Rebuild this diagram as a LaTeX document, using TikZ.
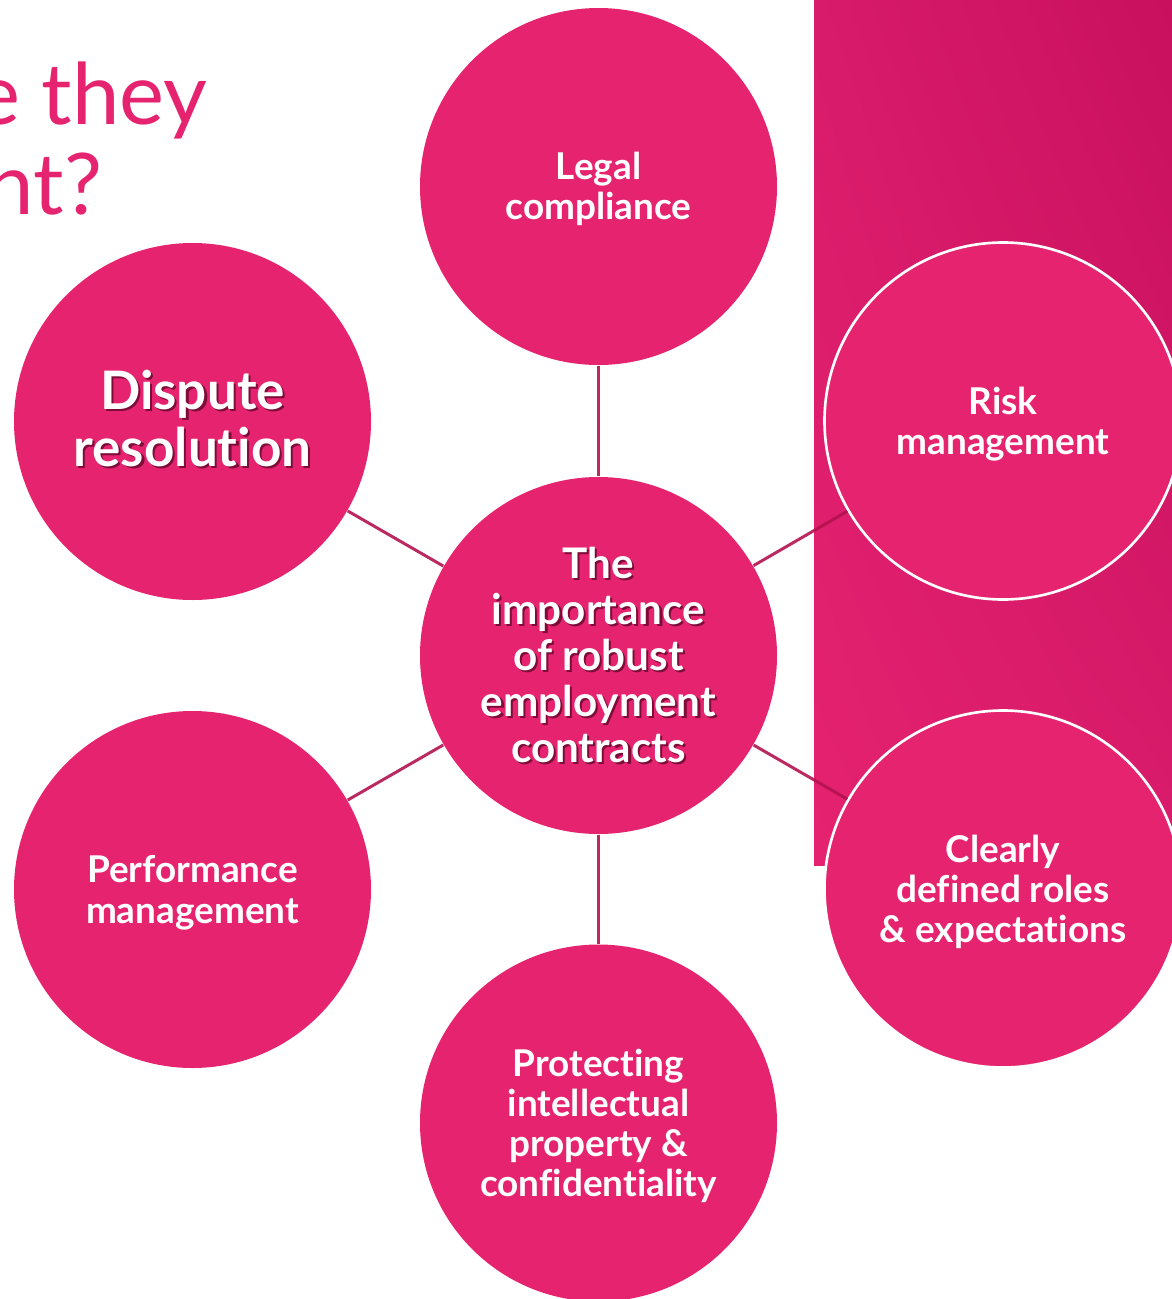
\documentclass[tikz,border=0pt]{standalone}
\usepackage{fontspec}
\setmainfont{Lato}[Ligatures=NoCommon]
\usetikzlibrary{shadings}
\definecolor{mpink}{HTML}{E6236F}
\definecolor{mlink}{HTML}{B3124F}
\definecolor{mshade}{HTML}{7E0C38}
\definecolor{panelA}{HTML}{E5226F}
\definecolor{panelB}{HTML}{D81B6B}
\definecolor{panelC}{HTML}{C8105E}
\definecolor{panelD}{HTML}{D91C6B}
\newcommand{\bubbletext}[2][1.55pt]{\raisebox{-#1}[\height][\depth]{\begin{tabular}{@{}c@{}}#2\end{tabular}}}
\newcommand{\castshadow}[2][1.85pt]{\raisebox{-#1}[\height][\depth]{\makebox[0pt][l]{\raisebox{-0.6pt}{\hspace{0.6pt}\color{mshade}\begin{tabular}{@{}c@{}}#2\end{tabular}}}\begin{tabular}{@{}c@{}}#2\end{tabular}}}

\begin{document}
\begin{tikzpicture}[x=1cm, y=-1cm,
			bubble/.style = {circle, fill=mpink, minimum size=3.57cm, inner sep=0pt, text=white, align=center, font=\bfseries\fontsize{10.5}{11.4}\selectfont},
			ringed/.style = {bubble, draw=white, line width=0.75pt},
			link/.style   = {draw=mlink, line width=0.85pt, draw opacity=0.9},
			title/.style  = {anchor=base east, inner sep=0pt, text=mpink, font=\fontsize{24.2}{25}\selectfont},]
			
			\useasboundingbox (0,0) rectangle (11.72,12.99);
			\clip (0,0) rectangle (11.72,12.99);
			
			%% BACKGROUND PANEL ON THE RIGHT
			\shade[upper left=panelB, upper right=panelC, lower left=panelA, lower right=panelD] (8.14,0) rectangle (11.72,8.65);
			
			%% TITLE (CUT AT THE LEFT EDGE)
			\node[title] (title1) at (2.08,1.24) {e they};
			\node[title] (title2) at (1.03,2.14) {nt?};
			
			%% CIRCLES
			\node[bubble] (legal) at (5.985,1.865) {\bubbletext{Legal\\compliance}};
			\node[bubble, font=\bfseries\fontsize{15.1}{16.2}\selectfont] (dispute) at (1.925,4.215) {\castshadow[1.8pt]{Dispute\\resolution}};
			\node[bubble, font=\bfseries\fontsize{12}{13.1}\selectfont] (core) at (5.985,6.555) {\castshadow[2pt]{The\\importance\\of robust\\employment\\contracts}};
			\node[ringed] (risk) at (10.03,4.21) {\bubbletext{Risk\\management}};
			\node[bubble] (perform) at (1.925,8.895) {\bubbletext{Performance\\management}};
			\node[ringed] (roles) at (10.03,8.89) {\bubbletext{Clearly\\defined roles\\\& expectations}};
			\node[bubble] (protect) at (5.985,11.23) {\bubbletext{Protecting\\intellectual\\property \&\\confidentiality}};
			
			%% SPOKES
			\draw[link] (core) -- (legal);
			\draw[link] (core) -- (dispute);
			\draw[link] (core) -- (risk);
			\draw[link] (core) -- (perform);
			\draw[link] (core) -- (roles);
			\draw[link] (core) -- (protect);
			\end{tikzpicture}
\end{document}
